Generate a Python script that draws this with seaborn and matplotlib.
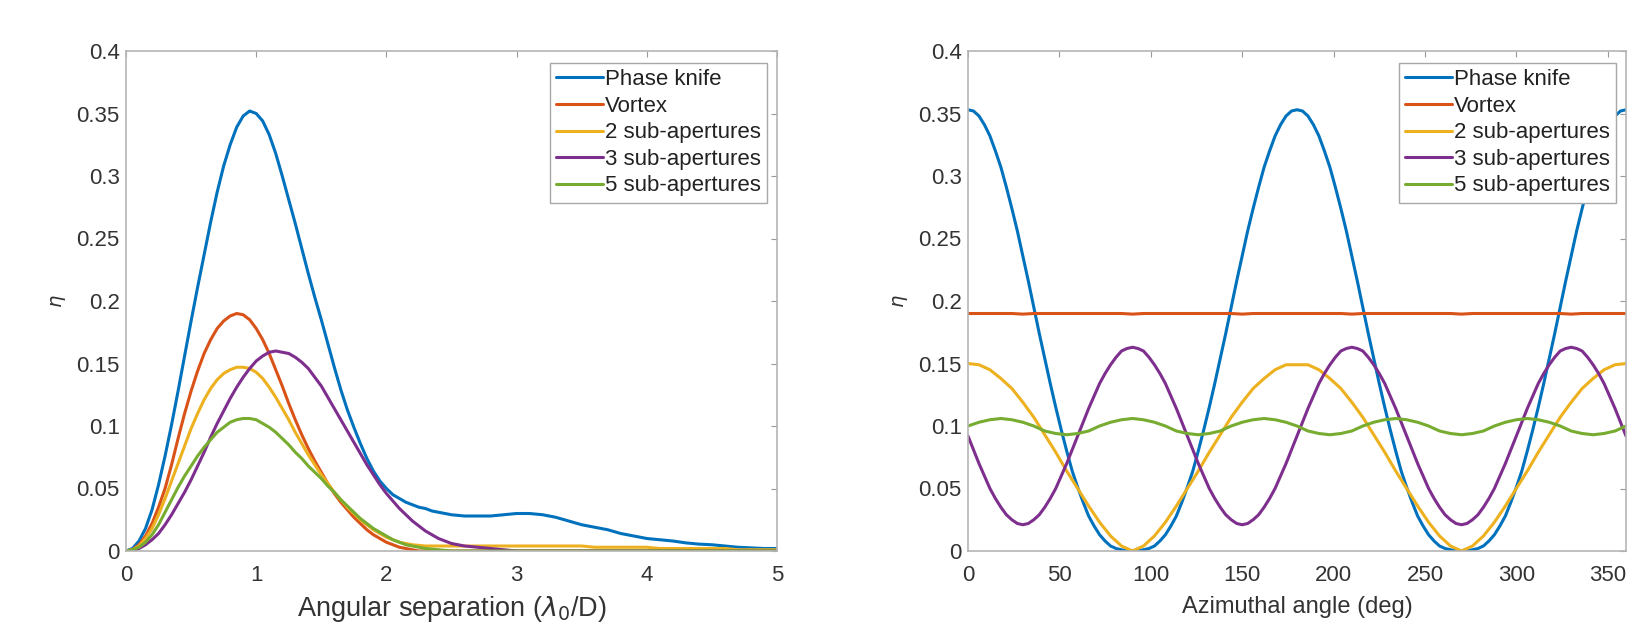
import numpy as np
import pandas as pd
import seaborn as sns
import matplotlib
matplotlib.use("Agg")
import matplotlib.pyplot as plt
from matplotlib.ticker import FuncFormatter

# ---------------- data: left panel (angular separation, lambda0/D) ----------------
sep = [0.00, 0.05, 0.10, 0.15, 0.20, 0.25, 0.30, 0.35, 0.40, 0.45,
       0.50, 0.55, 0.60, 0.65, 0.70, 0.75, 0.80, 0.85, 0.90, 0.95,
       1.00, 1.05, 1.10, 1.15, 1.20, 1.25, 1.30, 1.35, 1.40, 1.45,
       1.50, 1.55, 1.60, 1.65, 1.70, 1.75, 1.80, 1.85, 1.90, 1.95,
       2.00, 2.05, 2.10, 2.15, 2.20, 2.25, 2.30, 2.35, 2.40, 2.45,
       2.50,
       2.6, 2.7, 2.8, 2.9, 3.0, 3.1, 3.2, 3.3, 3.4, 3.5,
       3.6, 3.7, 3.8, 3.9, 4.0, 4.1, 4.2, 4.3, 4.4, 4.5,
       4.6, 4.7, 4.8, 4.9, 5.0]

knife_sep = [0.000, 0.002, 0.008, 0.018, 0.033, 0.053, 0.076, 0.101, 0.128, 0.156,
             0.184, 0.211, 0.237, 0.263, 0.287, 0.308, 0.325, 0.339, 0.348, 0.352,
             0.350, 0.344, 0.333, 0.318, 0.300, 0.281, 0.262, 0.242, 0.222, 0.203,
             0.185, 0.166, 0.147, 0.129, 0.113, 0.099, 0.086, 0.074, 0.064, 0.056,
             0.050, 0.045, 0.042, 0.039, 0.037, 0.035, 0.034, 0.032, 0.031, 0.030,
             0.029,
             0.028, 0.028, 0.028, 0.029, 0.030, 0.030, 0.029, 0.027, 0.024, 0.021,
             0.019, 0.017, 0.014, 0.012, 0.010, 0.009, 0.008, 0.0065, 0.0055, 0.005,
             0.004, 0.003, 0.0025, 0.002, 0.002]

vortex_sep = [0.000, 0.001, 0.005, 0.012, 0.022, 0.035, 0.050, 0.069, 0.090, 0.110,
              0.128, 0.144, 0.158, 0.169, 0.178, 0.184, 0.188, 0.190, 0.189, 0.185,
              0.178, 0.169, 0.158, 0.145, 0.132, 0.118, 0.105, 0.093, 0.082, 0.072,
              0.063, 0.054, 0.046, 0.039, 0.033, 0.027, 0.022, 0.017, 0.013, 0.010,
              0.007, 0.005, 0.003, 0.002, 0.001, 0.000, 0.000, 0.000, 0.000, 0.000,
              0.000,
              0.000, 0.000, 0.000, 0.000, 0.000, 0.000, 0.000, 0.000, 0.000, 0.000,
              0.000, 0.000, 0.000, 0.000, 0.000, 0.000, 0.000, 0.000, 0.000, 0.000,
              0.000, 0.000, 0.000, 0.000, 0.000]

sub2_sep = [0.000, 0.001, 0.004, 0.010, 0.018, 0.029, 0.042, 0.056, 0.070, 0.084,
            0.098, 0.110, 0.121, 0.130, 0.137, 0.142, 0.145, 0.147, 0.147, 0.146,
            0.143, 0.138, 0.131, 0.123, 0.114, 0.105, 0.095, 0.086, 0.077, 0.069,
            0.061, 0.054, 0.047, 0.041, 0.035, 0.030, 0.025, 0.021, 0.017, 0.014,
            0.011, 0.009, 0.007, 0.006, 0.005, 0.0045, 0.004, 0.004, 0.004, 0.004,
            0.004,
            0.004, 0.004, 0.004, 0.004, 0.004, 0.004, 0.004, 0.004, 0.004, 0.004,
            0.003, 0.003, 0.003, 0.003, 0.003, 0.002, 0.002, 0.002, 0.002, 0.002,
            0.002, 0.001, 0.001, 0.001, 0.001]

sub3_sep = [0.000, 0.0005, 0.002, 0.005, 0.009, 0.014, 0.021, 0.029, 0.038, 0.047,
            0.057, 0.068, 0.079, 0.091, 0.102, 0.112, 0.122, 0.131, 0.139, 0.146,
            0.152, 0.156, 0.159, 0.160, 0.159, 0.158, 0.155, 0.151, 0.146, 0.139,
            0.132, 0.123, 0.114, 0.105, 0.096, 0.087, 0.078, 0.069, 0.061, 0.053,
            0.046, 0.040, 0.034, 0.029, 0.024, 0.020, 0.016, 0.013, 0.010, 0.008,
            0.006,
            0.004, 0.003, 0.002, 0.001, 0.000, 0.000, 0.000, 0.000, 0.000, 0.000,
            0.000, 0.000, 0.000, 0.000, 0.000, 0.000, 0.000, 0.000, 0.000, 0.000,
            0.000, 0.000, 0.000, 0.000, 0.000]

sub5_sep = [0.000, 0.001, 0.003, 0.007, 0.013, 0.021, 0.031, 0.041, 0.051, 0.060,
            0.068, 0.076, 0.083, 0.089, 0.095, 0.099, 0.103, 0.105, 0.106, 0.106,
            0.105, 0.102, 0.099, 0.095, 0.090, 0.085, 0.079, 0.074, 0.068, 0.063,
            0.058, 0.052, 0.047, 0.041, 0.036, 0.031, 0.026, 0.022, 0.018, 0.015,
            0.012, 0.009, 0.007, 0.005, 0.004, 0.003, 0.002, 0.0015, 0.001, 0.0005,
            0.000,
            0.000, 0.000, 0.000, 0.000, 0.000, 0.000, 0.000, 0.000, 0.000, 0.000,
            0.000, 0.000, 0.000, 0.000, 0.000, 0.000, 0.000, 0.000, 0.000, 0.000,
            0.000, 0.000, 0.000, 0.000, 0.000]

# ---------------- data: right panel (azimuthal angle, deg) ----------------
azim_fine = list(range(0, 361, 3))   # 3-degree sampling
azim = list(range(0, 361, 6))        # 6-degree sampling

knife_az = [0.353, 0.352, 0.348, 0.341, 0.332, 0.320, 0.307, 0.291, 0.274, 0.256,
            0.236, 0.216, 0.195, 0.174, 0.154, 0.134, 0.115, 0.097, 0.080, 0.064,
            0.051, 0.039, 0.028, 0.020, 0.013, 0.008, 0.004, 0.002, 0.001, 0.000,
            0.000,
            0.000, 0.001, 0.002, 0.004, 0.008, 0.013, 0.020, 0.028, 0.039, 0.051,
            0.064, 0.080, 0.097, 0.115, 0.134, 0.154, 0.174, 0.195, 0.216, 0.236,
            0.256, 0.274, 0.291, 0.307, 0.320, 0.332, 0.341, 0.348, 0.352, 0.353,
            0.352, 0.348, 0.341, 0.332, 0.320, 0.307, 0.291, 0.274, 0.256, 0.236,
            0.216, 0.195, 0.174, 0.154, 0.134, 0.115, 0.097, 0.080, 0.064, 0.051,
            0.039, 0.028, 0.020, 0.013, 0.008, 0.004, 0.002, 0.001, 0.000, 0.000,
            0.000, 0.001, 0.002, 0.004, 0.008, 0.013, 0.020, 0.028, 0.039, 0.051,
            0.064, 0.080, 0.097, 0.115, 0.134, 0.154, 0.174, 0.195, 0.216, 0.236,
            0.256, 0.274, 0.291, 0.307, 0.320, 0.332, 0.341, 0.348, 0.352, 0.353]

sub3_az = [0.092, 0.081, 0.070, 0.060, 0.050, 0.042, 0.035, 0.029, 0.025, 0.022,
           0.021, 0.022, 0.025, 0.029, 0.035, 0.042, 0.050, 0.060, 0.070, 0.081,
           0.092, 0.103, 0.114, 0.124, 0.134, 0.142, 0.149, 0.155, 0.160, 0.162,
           0.163, 0.162, 0.160, 0.155, 0.149, 0.142, 0.134, 0.124, 0.114, 0.103,
           0.092, 0.081, 0.070, 0.060, 0.050, 0.042, 0.035, 0.029, 0.025, 0.022,
           0.021, 0.022, 0.025, 0.029, 0.035, 0.042, 0.050, 0.060, 0.070, 0.081,
           0.092, 0.103, 0.114, 0.124, 0.134, 0.142, 0.149, 0.155, 0.160, 0.162,
           0.163, 0.162, 0.160, 0.155, 0.149, 0.142, 0.134, 0.124, 0.114, 0.103,
           0.092, 0.081, 0.070, 0.060, 0.050, 0.042, 0.035, 0.029, 0.025, 0.022,
           0.021, 0.022, 0.025, 0.029, 0.035, 0.042, 0.050, 0.060, 0.070, 0.081,
           0.092, 0.103, 0.114, 0.124, 0.134, 0.142, 0.149, 0.155, 0.160, 0.162,
           0.163, 0.162, 0.160, 0.155, 0.149, 0.142, 0.134, 0.124, 0.114, 0.103,
           0.092]

vortex_az = [0.190, 0.190, 0.190, 0.190, 0.190, 0.1895, 0.190, 0.190, 0.190, 0.190,
             0.190, 0.190, 0.190, 0.190, 0.190, 0.1895, 0.190, 0.190, 0.190, 0.190,
             0.190, 0.190, 0.190, 0.190, 0.190, 0.1895, 0.190, 0.190, 0.190, 0.190,
             0.190, 0.190, 0.190, 0.190, 0.190, 0.1895, 0.190, 0.190, 0.190, 0.190,
             0.190, 0.190, 0.190, 0.190, 0.190, 0.1895, 0.190, 0.190, 0.190, 0.190,
             0.190, 0.190, 0.190, 0.190, 0.190, 0.1895, 0.190, 0.190, 0.190, 0.190,
             0.190]

sub2_az = [0.150, 0.149, 0.145, 0.138, 0.130, 0.119, 0.107, 0.093, 0.079, 0.064,
           0.050, 0.036, 0.023, 0.012, 0.004, 0.000,
           0.004, 0.012, 0.023, 0.036, 0.050, 0.064, 0.079, 0.093, 0.107, 0.119,
           0.130, 0.138, 0.145, 0.149, 0.149,
           0.149, 0.145, 0.138, 0.130, 0.119, 0.107, 0.093, 0.079, 0.064,
           0.050, 0.036, 0.023, 0.012, 0.004, 0.000,
           0.004, 0.012, 0.023, 0.036, 0.050, 0.064, 0.079, 0.093, 0.107, 0.119,
           0.130, 0.138, 0.145, 0.149, 0.150]

sub5_az = [0.100, 0.103, 0.105, 0.106, 0.105, 0.103, 0.100, 0.096, 0.094, 0.093, 0.094, 0.096,
           0.100, 0.103, 0.105, 0.106, 0.105, 0.103, 0.100, 0.096, 0.094, 0.093, 0.094, 0.096,
           0.100, 0.103, 0.105, 0.106, 0.105, 0.103, 0.100, 0.096, 0.094, 0.093, 0.094, 0.096,
           0.100, 0.103, 0.105, 0.106, 0.105, 0.103, 0.100, 0.096, 0.094, 0.093, 0.094, 0.096,
           0.100, 0.103, 0.105, 0.106, 0.105, 0.103, 0.100, 0.096, 0.094, 0.093, 0.094, 0.096,
           0.100]

series_names = ["Phase knife", "Vortex", "2 sub-apertures", "3 sub-apertures", "5 sub-apertures"]
colors = ["#0072BD", "#D95319", "#EDB120", "#7E2F8E", "#77AC30"]
x_ticks_left = [0, 1, 2, 3, 4, 5]
x_ticks_right = [0, 50, 100, 150, 200, 250, 300, 350]
y_ticks = [0, 0.05, 0.1, 0.15, 0.2, 0.25, 0.3, 0.35, 0.4]

left_data = [(sep, knife_sep), (sep, vortex_sep), (sep, sub2_sep), (sep, sub3_sep), (sep, sub5_sep)]
right_data = [(azim_fine, knife_az), (azim, vortex_az), (azim, sub2_az),
              (azim_fine, sub3_az), (azim, sub5_az)]

df_left = pd.concat([pd.DataFrame({"x": xs, "eta": ys, "series": n})
                     for n, (xs, ys) in zip(series_names, left_data)], ignore_index=True)
df_right = pd.concat([pd.DataFrame({"x": xs, "eta": ys, "series": n})
                      for n, (xs, ys) in zip(series_names, right_data)], ignore_index=True)

sns.set_theme(style="white")
plt.rcParams["font.family"] = ["Liberation Sans", "DejaVu Sans"]
plt.rcParams["mathtext.fontset"] = "dejavusans"

W, H = 1645, 624
fig = plt.figure(figsize=(W / 100, H / 100), dpi=100)
ax1 = fig.add_axes([126 / W, 1 - 551 / H, 651 / W, 500 / H])
ax2 = fig.add_axes([968 / W, 1 - 551 / H, 658 / W, 500 / H])

palette = dict(zip(series_names, colors))
tick_col = "#333333"
edge_col = "#b5b5b5"
fs_tick = 16
fs_leg = 16

def fmt(v, pos):
    return "%g" % round(v, 3)

for ax, df, xt, xlim, xlabel, fs_lab, lp in [
        (ax1, df_left, x_ticks_left, (0, 5), r"Angular separation ($\lambda_0$/D)", 19.5, 6),
        (ax2, df_right, x_ticks_right, (0, 360), "Azimuthal angle (deg)", 17, 7)]:
    sns.lineplot(data=df, x="x", y="eta", hue="series", hue_order=series_names,
                 palette=palette, linewidth=2.2, ax=ax, sort=False, estimator=None)
    ax.set_xlim(*xlim)
    ax.set_ylim(0, 0.4)
    ax.set_xticks(xt)
    ax.set_yticks(y_ticks)
    ax.xaxis.set_major_formatter(FuncFormatter(fmt))
    ax.yaxis.set_major_formatter(FuncFormatter(fmt))
    ax.tick_params(direction="in", length=4, width=0.8, color="#999999",
                   labelsize=fs_tick, labelcolor=tick_col, top=True, right=True)
    ax.tick_params(axis="x", pad=10)
    ax.tick_params(axis="y", pad=4.5)
    for s in ax.spines.values():
        s.set_color(edge_col)
        s.set_linewidth(1.2)
    ax.set_xlabel(xlabel, fontsize=fs_lab, color=tick_col, labelpad=lp)
    ax.set_ylabel(r"$\eta$", fontsize=14, color=tick_col, labelpad=6)
    leg = ax.legend(loc="upper right", bbox_to_anchor=(0.985, 0.976), borderaxespad=0,
                    fontsize=fs_leg, frameon=True, fancybox=False, framealpha=1,
                    handlelength=2.1, handletextpad=0.1, labelspacing=0.25,
                    borderpad=0.28, title=None)
    leg.get_frame().set_edgecolor("#a8a8a8")
    leg.get_frame().set_linewidth(1.0)
    for t in leg.get_texts():
        t.set_color("#222222")

fig.savefig("out.png", dpi=100, facecolor="white")
